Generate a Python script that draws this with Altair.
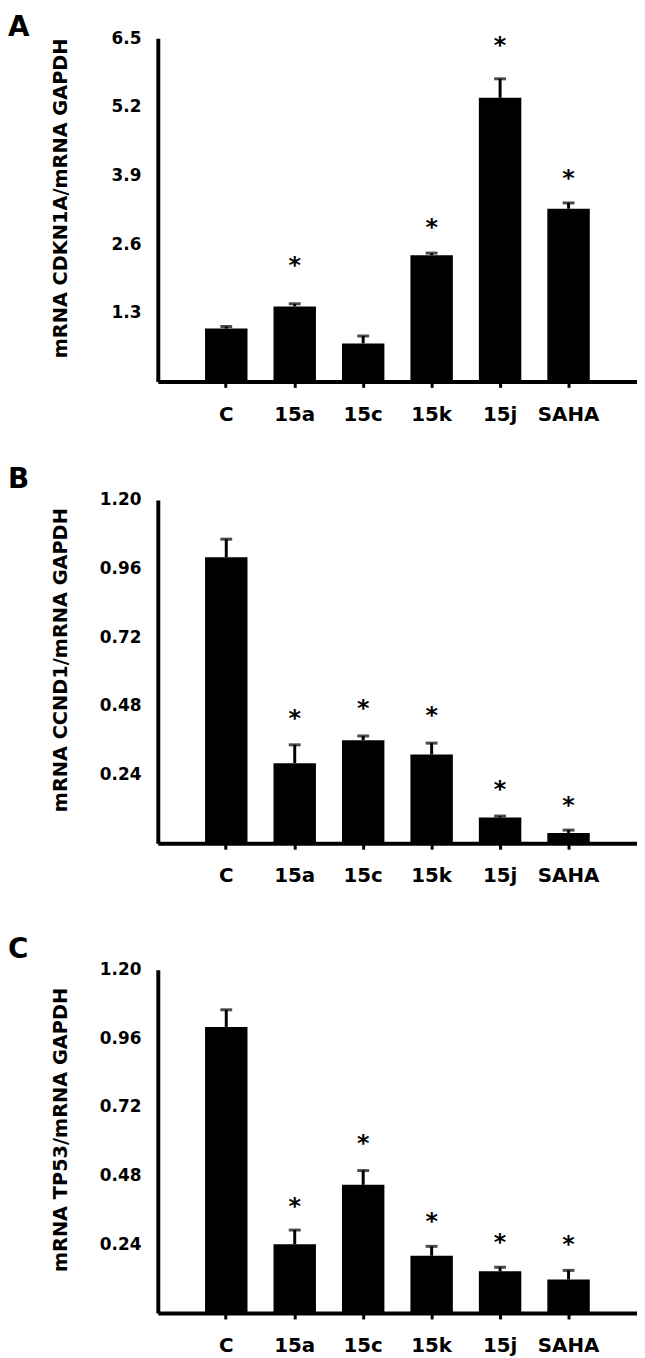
import altair as alt
import pandas as pd

categories = ["C", "15a", "15c", "15k", "15j", "SAHA"]

# Panel A: CDKN1A
a_mean = [1.00, 1.42, 0.72, 2.39, 5.37, 3.27]
a_err = [0.04, 0.05, 0.14, 0.04, 0.36, 0.11]
a_star = [None, 2.27, None, 3.00, 6.44, 3.93]
a_ticks = [1.3, 2.6, 3.9, 5.2, 6.5]

# Panel B: CCND1
b_mean = [1.00, 0.28, 0.36, 0.31, 0.09, 0.036]
b_err = [0.063, 0.064, 0.015, 0.04, 0.005, 0.010]
b_star = [None, 0.451, 0.487, 0.462, 0.205, 0.148]
bc_ticks = [0.24, 0.48, 0.72, 0.96, 1.20]

# Panel C: TP53
c_mean = [1.00, 0.24, 0.448, 0.20, 0.146, 0.117]
c_err = [0.06, 0.05, 0.05, 0.033, 0.014, 0.032]
c_star = [None, 0.388, 0.608, 0.336, 0.263, 0.254]

FONT = "DejaVu Sans"


def panel(letter, mean, err, star, ymax, ticks, fmt, ytitle, toffset, extra_bottom=0):
    df = pd.DataFrame({
        "cat": categories,
        "mean": mean,
        "top": [m + e for m, e in zip(mean, err)],
        "star": star,
    })
    xscale = alt.Scale(paddingInner=0.38, paddingOuter=0.69)
    xaxis_kw = dict(labelAngle=0, labelFontSize=20, labelPadding=17,
                    tickSize=6, tickWidth=3, tickColor="black",
                    domainWidth=4, domainColor="black")
    if extra_bottom:
        xaxis_kw.update(titleFontSize=extra_bottom, titlePadding=0)
        x = alt.X("cat:N", sort=categories, scale=xscale, title=" ",
                  axis=alt.Axis(**xaxis_kw))
    else:
        x = alt.X("cat:N", sort=categories, scale=xscale, title=None,
                  axis=alt.Axis(**xaxis_kw))
    xs = alt.X("cat:N", sort=categories, scale=xscale)
    yscale = alt.Scale(domain=[0, ymax], nice=False)
    y = alt.Y("mean:Q", scale=yscale, title=ytitle,
              axis=alt.Axis(values=ticks, format=fmt, ticks=False,
                            labelPadding=17, labelFontSize=17, grid=False,
                            domainWidth=4, domainColor="black",
                            titleFontSize=19.5, titleX=-98, titleY=161,
                            titleBaseline="middle"))
    bars = alt.Chart(df).mark_bar(color="black").encode(x=x, y=y)
    rule = alt.Chart(df).mark_rule(color="black", strokeWidth=3).encode(
        x=xs, y=alt.Y("mean:Q", scale=yscale, title=ytitle), y2="top:Q")
    cap = alt.Chart(df).mark_tick(color="black", size=12, thickness=3).encode(
        x=xs, y=alt.Y("top:Q", scale=yscale, title=ytitle))
    stars = alt.Chart(df).transform_filter("isValid(datum.star)").mark_text(
        text="*", font=FONT, fontWeight="bold", fontSize=24, baseline="middle",
        dy=5, color="black").encode(
        x=xs, y=alt.Y("star:Q", scale=yscale, title=ytitle))
    return alt.layer(bars, rule, cap, stars).properties(
        width=483, height=346,
        title=alt.TitleParams(letter, anchor="start", frame="group", dx=-151,
                              fontSize=28, font=FONT, fontWeight="bold",
                              color="black", offset=toffset))


pa = panel("A", a_mean, a_err, a_star, 6.5, a_ticks, ".1f",
           "mRNA CDKN1A/mRNA GAPDH", -12.5)
pb = panel("B", b_mean, b_err, b_star, 1.20, bc_ticks, ".2f",
           "mRNA CCND1/mRNA GAPDH", -3, extra_bottom=8)
pc = panel("C", c_mean, c_err, c_star, 1.20, bc_ticks, ".2f",
           "mRNA TP53/mRNA GAPDH", -3)

chart = alt.vconcat(pa, pb, pc, spacing=42.5).properties(padding=0).configure_view(
    stroke=None
).configure_axis(
    labelFont=FONT, titleFont=FONT, labelFontWeight="bold",
    titleFontWeight="bold", labelColor="black", titleColor="black"
)

chart.save("out.html", embed_options={"renderer": "svg", "actions": False})
